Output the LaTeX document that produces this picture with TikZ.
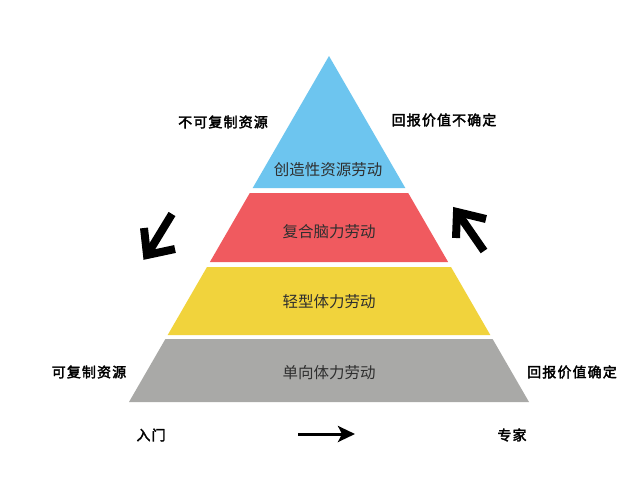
\documentclass[tikz,border=0pt]{standalone}
\usepackage{fontspec}
\usetikzlibrary{arrows.meta}
\newfontfamily\cjk{Noto Sans CJK SC}
\newfontfamily\cjkb[FakeBold=2.5,LetterSpace=8]{Noto Sans CJK SC}
\definecolor{pblue}{HTML}{6DC5EF}
\definecolor{pred}{HTML}{F05A5F}
\definecolor{pyellow}{HTML}{F1D33C}
\definecolor{pgray}{HTML}{A9A9A7}
\definecolor{ptext}{HTML}{2F2F2F}
\tikzset{
  band/.style={draw=none},
  bandlabel/.style={font=\cjk\fontsize{15.5}{16}\selectfont, text=ptext, inner sep=0pt},
  sidelabel/.style={font=\cjkb\fontsize{14}{15}\selectfont, text=black, inner sep=0pt},
  bigarrow/.style={line width=8pt, black, miter limit=10, line join=miter, line cap=butt},
}
\begin{document}
\begin{tikzpicture}[x=1pt,y=-1pt]
\useasboundingbox[fill=white] (0,0) rectangle (640,479);
% pyramid bands
\fill[pblue]   (329,56) -- (405.3,188) -- (252.7,188) -- cycle;
\fill[pred]    (249.8,193) -- (408.2,193) -- (448.1,262) -- (209.9,262) -- cycle;
\fill[pyellow] (207,267) -- (451,267) -- (490.3,335) -- (167.7,335) -- cycle;
\fill[pgray]   (165.4,339) -- (492.6,339) -- (529,402) -- (129,402) -- cycle;
% band labels
\node[bandlabel] (l1) at (328,170) {创造性资源劳动};
\node[bandlabel] (l2) at (329,232) {复合脑力劳动};
\node[bandlabel] (l3) at (329,302) {轻型体力劳动};
\node[bandlabel] (l4) at (329,373) {单向体力劳动};
% side labels
\node[sidelabel] (s1) at (223,122) {不可复制资源};
\node[sidelabel] (s2) at (444,120) {回报价值不确定};
\node[sidelabel] (s3) at (89,372) {可复制资源};
\node[sidelabel] (s4) at (572,372) {回报价值确定};
\node[sidelabel] (s5) at (151,435) {入门};
\node[sidelabel] (s6) at (512,435) {专家};
% thick arrows
\coordinate (at1) at (172,214);
\coordinate (ah1) at (147,255);
\coordinate (aa1) at (144,228);
\coordinate (ab1) at (175,249);
\draw[bigarrow] (at1) -- (ah1);
\draw[bigarrow] (aa1) -- (ah1) -- (ab1);
\coordinate (at2) at (484,251);
\coordinate (ah2) at (457,212);
\coordinate (aa2) at (456,238);
\coordinate (ab2) at (486,219);
\draw[bigarrow] (at2) -- (ah2);
\draw[bigarrow] (aa2) -- (ah2) -- (ab2);
% bottom arrow
\coordinate (b1) at (298,434);
\coordinate (b2) at (355,434);
\draw[line width=3pt, -{Stealth[length=17pt,width=16pt,inset=4pt]}] (b1) -- (b2);
\end{tikzpicture}
\end{document}
